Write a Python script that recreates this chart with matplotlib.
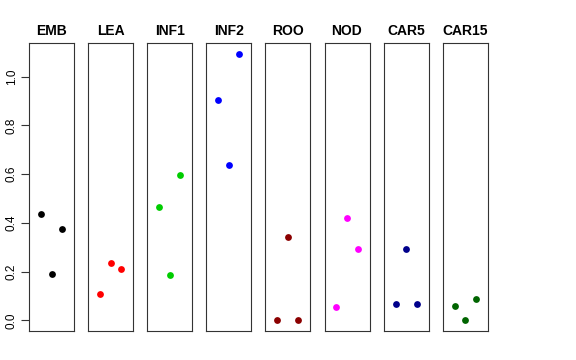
import numpy as np
import matplotlib
matplotlib.use("Agg")
import matplotlib.pyplot as plt

plt.rcParams['font.family'] = ['Liberation Sans', 'DejaVu Sans']

# tissues and values (3 points each)
tissues = ['EMB', 'LEA', 'INF1', 'INF2', 'ROO', 'NOD', 'CAR5', 'CAR15']
emb = [0.438, 0.191, 0.373]
lea = [0.109, 0.236, 0.212]
inf1 = [0.467, 0.187, 0.597]
inf2 = [0.904, 0.638, 1.094]
roo = [0.0, 0.340, 0.0]
nod = [0.055, 0.420, 0.294]
car5 = [0.066, 0.293, 0.068]
car15 = [0.060, 0.0, 0.088]
values = [emb, lea, inf1, inf2, roo, nod, car5, car15]
colors = ['black', 'red', '#00CD00', 'blue', '#8B0000', 'magenta', '#00008B', '#006400']
xs = [1, 2, 3]

fig = plt.figure(figsize=(5.76, 3.6), dpi=100)
W, H = 576.0, 360.0

ymax = max(max(v) for v in values)
ypad = ymax * 0.04

for i, (name, vals, col) in enumerate(zip(tissues, values, colors)):
    left = 29 + i * 59.1
    ax = fig.add_axes([left / W, 1 - 331 / H, 45 / W, (331 - 43) / H])
    ax.scatter(xs, vals, s=24, color=col, zorder=3, linewidths=0)
    ax.set_xlim(2 - 2.14, 2 + 2.14)
    ax.set_ylim(-ypad, ymax + ypad)
    ax.set_xticks([])
    ax.set_title(name, fontsize=10, fontweight='bold', pad=6)
    for sp in ax.spines.values():
        sp.set_linewidth(0.8)
        sp.set_color('#333333')
    if i == 0:
        ax.set_yticks([0.0, 0.2, 0.4, 0.6, 0.8, 1.0])
        ax.set_yticklabels(['0.0', '0.2', '0.4', '0.6', '0.8', '1.0'], rotation=90, va='center', fontsize=8.5)
        ax.tick_params(axis='y', length=6, width=0.8, color='#333333', pad=2)
    else:
        ax.set_yticks([])

fig.savefig('out.png', dpi=100)
